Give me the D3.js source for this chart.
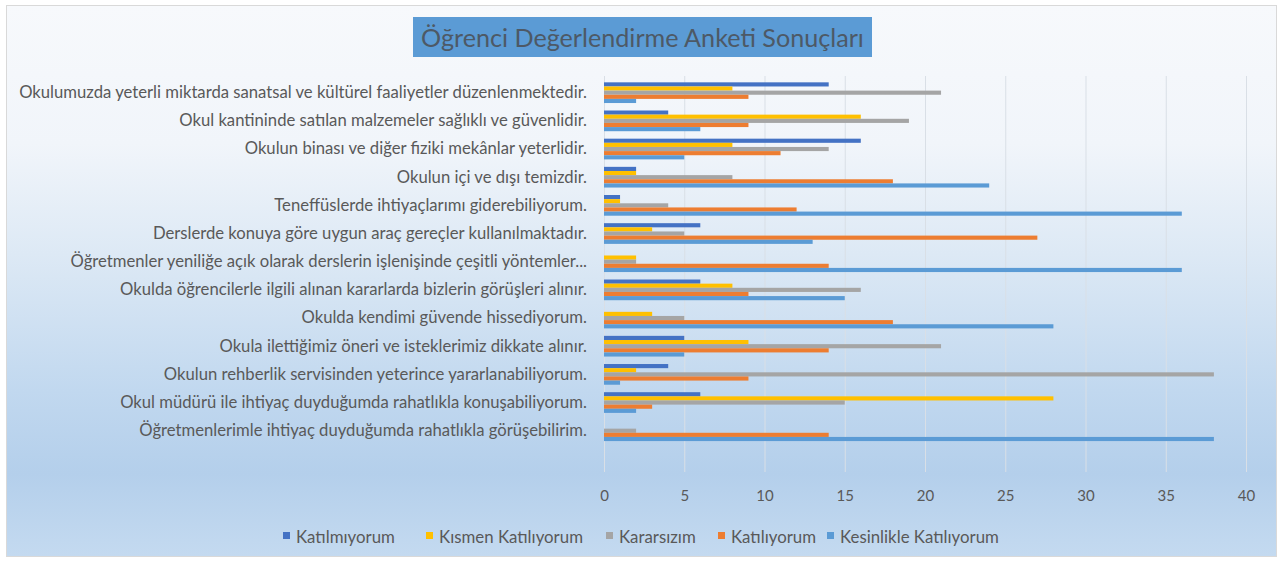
<!DOCTYPE html>
<html>
<head>
<meta charset="utf-8">
<script src="https://cdn.jsdelivr.net/npm/d3@7"></script>
<style>
  html, body { margin: 0; padding: 0; background: #ffffff; }
  svg { display: block; }
  text { font-family: Lato, "Open Sans", "Liberation Sans", sans-serif; }
</style>
</head>
<body>
<svg id="chart" width="1283" height="562"></svg>
<script>
// ---------- DATA ----------
const title = "Öğrenci Değerlendirme Anketi Sonuçları";

const categories = [
  "Okulumuzda yeterli miktarda sanatsal ve kültürel faaliyetler düzenlenmektedir.",
  "Okul kantininde satılan malzemeler sağlıklı ve güvenlidir.",
  "Okulun binası ve diğer fiziki mekânlar yeterlidir.",
  "Okulun içi ve dışı temizdir.",
  "Teneffüslerde ihtiyaçlarımı giderebiliyorum.",
  "Derslerde konuya göre uygun araç gereçler kullanılmaktadır.",
  "Öğretmenler yeniliğe açık olarak derslerin işlenişinde çeşitli yöntemler...",
  "Okulda öğrencilerle ilgili alınan kararlarda bizlerin görüşleri alınır.",
  "Okulda kendimi güvende hissediyorum.",
  "Okula ilettiğimiz öneri ve isteklerimiz dikkate alınır.",
  "Okulun rehberlik servisinden yeterince yararlanabiliyorum.",
  "Okul müdürü ile ihtiyaç duyduğumda rahatlıkla konuşabiliyorum.",
  "Öğretmenlerimle ihtiyaç duyduğumda rahatlıkla görüşebilirim."
];

const seriesNames = ["Katılmıyorum", "Kısmen Katılıyorum", "Kararsızım", "Katılıyorum", "Kesinlikle Katılıyorum"];

const katilmiyorum = [14, 4, 16, 2, 1, 6, 0, 6, 0, 5, 4, 6, 0];
const kismenKatiliyorum = [8, 16, 8, 2, 1, 3, 2, 8, 3, 9, 2, 28, 0];
const kararsizim = [21, 19, 14, 8, 4, 5, 2, 16, 5, 21, 38, 15, 2];
const katiliyorum = [9, 9, 11, 18, 12, 27, 14, 9, 18, 14, 9, 3, 14];
const kesinlikleKatiliyorum = [2, 6, 5, 24, 36, 13, 36, 15, 28, 5, 1, 2, 38];

const xTicks = [0, 5, 10, 15, 20, 25, 30, 35, 40];

// ---------- STYLE ----------
const colors = ["#4472C4", "#FFC000", "#A5A5A5", "#ED7D31", "#5B9BD5"];
const textColor = "#595959";

const seriesValues = [katilmiyorum, kismenKatiliyorum, kararsizim, katiliyorum, kesinlikleKatiliyorum];
const rows = categories.map((c, i) => ({
  category: c,
  values: seriesNames.map((s, j) => ({ series: s, idx: j, value: seriesValues[j][i] }))
}));

const svg = d3.select("#chart");

// background gradient
const defs = svg.append("defs");
const grad = defs.append("linearGradient").attr("id", "bg").attr("x1", 0).attr("y1", 0).attr("x2", 0).attr("y2", 1);
[["0%", "#f7f9fc"], ["25%", "#f1f5fa"], ["45%", "#dde9f5"], ["70%", "#c1d8ef"], ["85%", "#b4cfeb"], ["100%", "#c4daf0"]]
  .forEach(([o, c]) => grad.append("stop").attr("offset", o).attr("stop-color", c));

svg.append("rect").attr("x", 6.5).attr("y", 5.5).attr("width", 1270).attr("height", 551)
  .attr("fill", "url(#bg)").attr("stroke", "#d9d9d9").attr("stroke-width", 1);

// helper: font size so that the text gets the target width
function fitSize(sel, target) {
  sel.style("font-size", "100px");
  let w = 0;
  sel.each(function() { w += this.getComputedTextLength(); });
  return 100 * target / w;
}

// ---------- TITLE ----------
svg.append("rect").attr("x", 413).attr("y", 17).attr("width", 459).attr("height", 40).attr("fill", "#5B9BD5");
const t = svg.append("text").attr("x", 642.5).attr("y", 37).attr("text-anchor", "middle")
  .attr("dominant-baseline", "central").attr("fill", "#4d5966").text(title);
t.style("font-size", fitSize(t, 443) + "px");

// ---------- SCALES ----------
const x = d3.scaleLinear().domain([0, 40]).range([604, 1246]);
const y = d3.scaleBand().domain(categories).range([78.6, 444.8]).paddingInner(0.265).paddingOuter(0.1325);
const ys = d3.scaleBand().domain(seriesNames).range([0, y.bandwidth()]);

// gridlines
svg.append("g").selectAll("line").data(xTicks).join("line")
  .attr("x1", d => x(d) + 0.5).attr("x2", d => x(d) + 0.5)
  .attr("y1", 76).attr("y2", 472)
  .attr("stroke", "#d9dfe6").attr("stroke-width", 1);

// x axis labels
const xAxis = d3.axisBottom(x).tickValues(xTicks).tickSize(0).tickPadding(0).tickFormat(d3.format("d"));
const gx = svg.append("g").attr("transform", "translate(0,487)").call(xAxis);
gx.select(".domain").remove();
gx.selectAll("text").attr("fill", textColor).style("font-size", "15px").attr("dy", "0.9em")
  .style("font-family", "Lato, 'Open Sans', sans-serif");

// bars
const groups = svg.append("g").selectAll("g").data(rows).join("g")
  .attr("transform", d => `translate(0,${y(d.category)})`);
groups.selectAll("rect").data(d => d.values).join("rect")
  .attr("x", x(0))
  .attr("y", d => ys(d.series))
  .attr("width", d => x(d.value) - x(0))
  .attr("height", ys.bandwidth())
  .attr("fill", d => colors[d.idx]);

// category labels
const yAxis = d3.axisLeft(y).tickSize(0).tickPadding(0);
const gy = svg.append("g").attr("transform", "translate(587,0)").call(yAxis);
gy.select(".domain").remove();
gy.selectAll("text").attr("fill", textColor).style("font-family", "Lato, 'Open Sans', sans-serif");
const longest = gy.selectAll("text").filter(d => d === categories[0]);
const fs = fitSize(longest, 568);
gy.selectAll("text").style("font-size", fs + "px");

// ---------- LEGEND ----------
const legend = svg.append("g").attr("transform", "translate(0,536)");
const legendX = [283, 426, 606, 718, 827];
const items = legend.selectAll("g").data(seriesNames).join("g")
  .attr("transform", (d, i) => `translate(${legendX[i]},0)`);
items.append("rect").attr("x", 0).attr("y", -4).attr("width", 7).attr("height", 7)
  .attr("fill", (d, i) => colors[i]);
const ltexts = items.append("text").attr("x", 13).attr("y", 0).attr("dominant-baseline", "central")
  .attr("fill", textColor).text(d => d);
const lfs = fitSize(ltexts, 564);
ltexts.style("font-size", lfs + "px");
</script>
</body>
</html>
